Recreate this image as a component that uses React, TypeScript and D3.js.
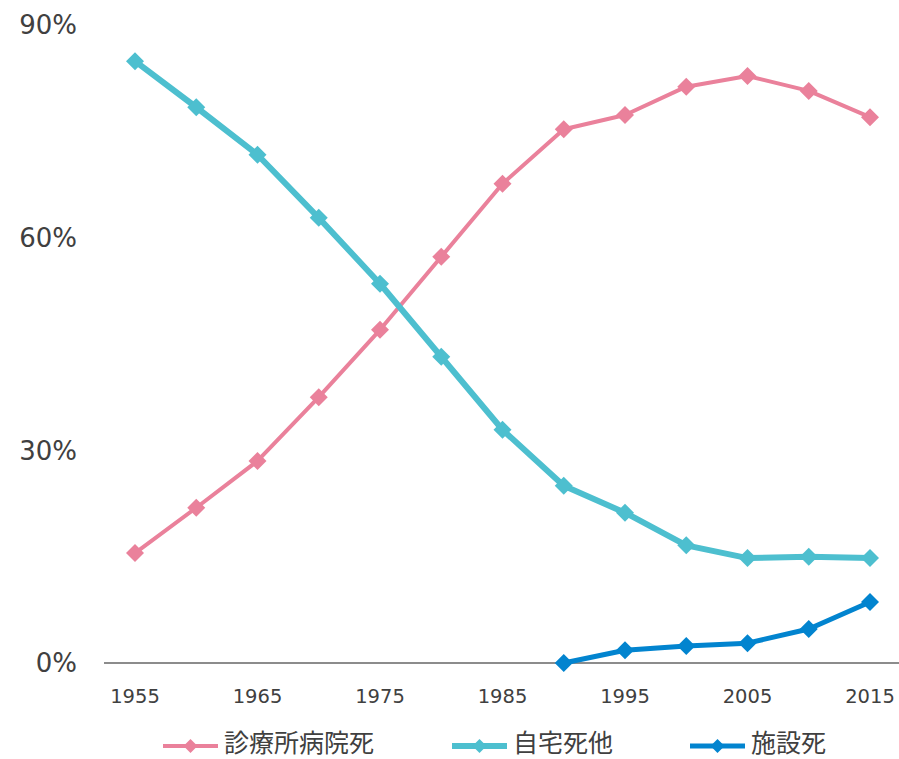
import React, { useEffect, useRef } from "react";
import * as d3 from "d3";

const years = [1955, 1960, 1965, 1970, 1975, 1980, 1985, 1990, 1995, 2000, 2005, 2010, 2015];
const hospital = [15.5, 21.9, 28.5, 37.5, 47.0, 57.3, 67.6, 75.3, 77.3, 81.3, 82.8, 80.7, 77.0];
const home = [84.9, 78.4, 71.7, 62.8, 53.5, 43.2, 32.9, 25.0, 21.2, 16.6, 14.8, 15.0, 14.8];
const facility = [null, null, null, null, null, null, null, 0, 1.8, 2.4, 2.8, 4.8, 8.6];
const xTickYears = [1955, 1965, 1975, 1985, 1995, 2005, 2015];
const yTicks = [0, 30, 60, 90];

const seriesNames = ["診療所病院死", "自宅死他", "施設死"];
const colors = ["#EA819B", "#4DBFCF", "#0284CF"];
const widths = [4, 6, 5];

const W = 899,
  H = 759;
const margin = { top: 25, right: 29, bottom: 96, left: 104 };
const font = "'DejaVu Sans', 'Noto Sans CJK JP', sans-serif";

export default function App() {
  const ref = useRef<SVGSVGElement>(null);

  useEffect(() => {
    if (!ref.current) return;
    const svg = d3.select(ref.current);
    svg.selectAll("*").remove();

    const x = d3
      .scaleLinear()
      .domain([1955, 2015])
      .range([135, 870]);
    const y = d3
      .scaleLinear()
      .domain([0, 90])
      .range([H - margin.bottom, margin.top]);

    // y tick labels
    svg
      .append("g")
      .selectAll("text")
      .data(yTicks)
      .enter()
      .append("text")
      .attr("x", 77)
      .attr("y", (d) => y(d))
      .attr("dy", "0.36em")
      .attr("text-anchor", "end")
      .attr("font-size", 26)
      .attr("font-family", font)
      .attr("fill", "#404040")
      .text((d) => d + "%");

    // x axis baseline
    svg
      .append("line")
      .attr("x1", margin.left)
      .attr("x2", W)
      .attr("y1", y(0))
      .attr("y2", y(0))
      .attr("stroke", "#8c8c8c")
      .attr("stroke-width", 2);

    svg
      .append("g")
      .selectAll("text")
      .data(xTickYears)
      .enter()
      .append("text")
      .attr("x", (d) => x(d))
      .attr("y", y(0) + 40)
      .attr("text-anchor", "middle")
      .attr("font-size", 19.5)
      .attr("font-family", font)
      .attr("fill", "#404040")
      .text((d) => d);

    const all = [hospital, home, facility];
    const line = d3
      .line<[number, number | null]>()
      .defined((d) => d[1] !== null)
      .x((d) => x(d[0]))
      .y((d) => y(d[1] as number));

    const diamond = (s: number) =>
      `M0,${-s}L${s},0L0,${s}L${-s},0Z`;

    all.forEach((vals, i) => {
      const pts = years.map((yr, j) => [yr, vals[j]] as [number, number | null]);
      const g = svg.append("g");
      g.append("path")
        .attr("d", line(pts) || "")
        .attr("fill", "none")
        .attr("stroke", colors[i])
        .attr("stroke-width", widths[i])
        .attr("stroke-linejoin", "round");
      g.selectAll("path.m")
        .data(pts.filter((p) => p[1] !== null))
        .enter()
        .append("path")
        .attr("class", "m")
        .attr("d", diamond(9))
        .attr("transform", (d) => `translate(${x(d[0])},${y(d[1] as number)})`)
        .attr("fill", colors[i]);
    });

    // legend
    const legendX = [163, 452, 690];
    const ly = 746;
    seriesNames.forEach((name, i) => {
      const g = svg.append("g").attr("transform", `translate(${legendX[i]},${ly})`);
      g.append("line")
        .attr("x1", 0)
        .attr("x2", 55)
        .attr("stroke", colors[i])
        .attr("stroke-width", widths[i]);
      g.append("path").attr("d", diamond(7)).attr("transform", "translate(27.5,0)").attr("fill", colors[i]);
      g.append("text")
        .attr("x", 61)
        .attr("y", -2.5)
        .attr("dy", "0.34em")
        .attr("font-size", 25)
        .attr("font-family", font)
        .attr("fill", "#404040")
        .text(name);
    });
  }, []);

  return (
    <svg
      ref={ref}
      width={W}
      height={H}
      style={{ position: "absolute", left: 0, top: 0, background: "#fff" }}
    ></svg>
  );
}
